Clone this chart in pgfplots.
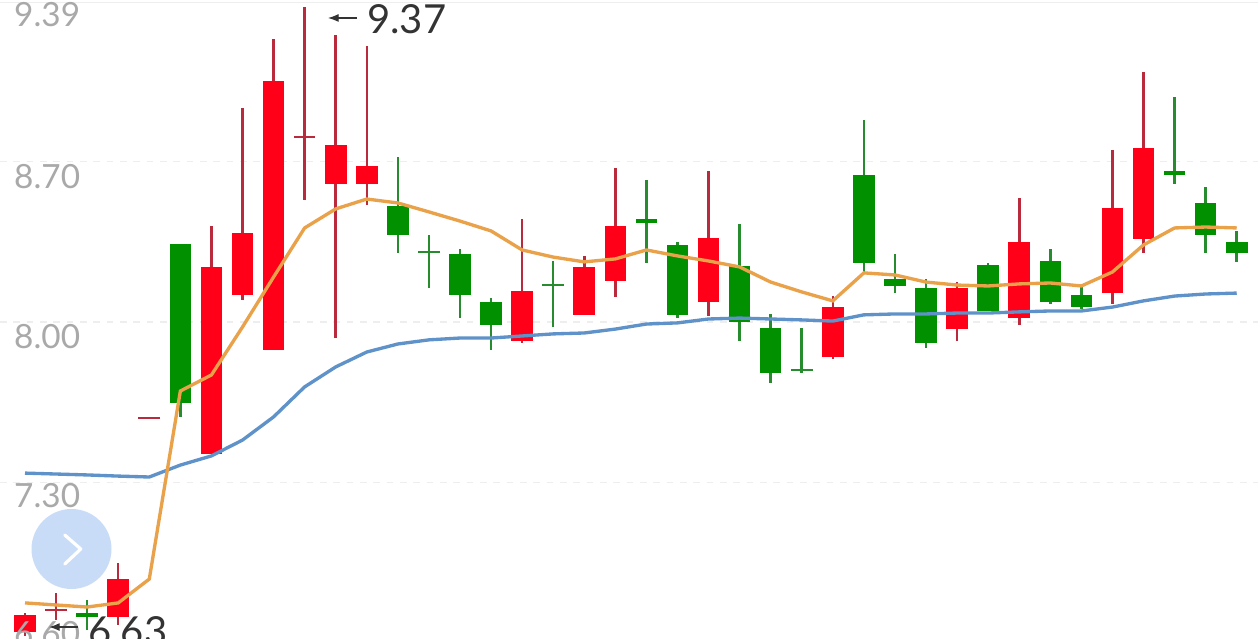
\documentclass[border=0pt]{standalone}
\usepackage{pgfplots}
\usepackage{pgfplotstable}
\pgfplotsset{compat=1.18}
\usepackage{fontspec}
\setmainfont{Lato}
\usetikzlibrary{arrows.meta}
\definecolor{bodyred}{HTML}{FF0018}
\definecolor{bodygreen}{HTML}{009000}
\definecolor{wickred}{HTML}{B82A3C}
\definecolor{wickgreen}{HTML}{278C2E}
\definecolor{maorange}{HTML}{E9A24A}
\definecolor{mablue}{HTML}{5F92C8}
\definecolor{gridc}{HTML}{EEEEEE}
\definecolor{ticktext}{HTML}{A9A9A9}
\definecolor{dark}{HTML}{333333}
\definecolor{btn}{HTML}{C9DCF7}

\pgfplotstableread{
i high top bottom low
0 6.73 6.722 6.648 6.63
3 6.949 6.879 6.714 6.679
6 8.419 8.240 7.424 7.424
7 8.933 8.388 8.118 8.096
8 9.234 9.051 7.878 7.878
10 9.252 8.772 8.602 7.930
11 9.204 8.680 8.602 8.510
16 8.449 8.135 7.917 7.908
18 8.288 8.240 8.031 8.031
19 8.672 8.419 8.179 8.109
22 8.659 8.366 8.087 8.026
26 8.113 8.065 7.847 7.839
30 8.174 8.148 7.969 7.917
32 8.541 8.349 8.017 7.987
35 8.750 8.497 8.126 8.078
36 9.090 8.759 8.362 8.301
}\redcandles
\pgfplotstableread{
i high top bottom low
1 6.818 6.748 6.740 6.700
4 7.586 7.586 7.577 7.577
9 9.374 8.811 8.802 8.532
}\reddoji
\pgfplotstableread{
i high top bottom low
2 6.788 6.731 6.714 6.657
5 8.340 8.340 7.647 7.586
12 8.720 8.506 8.379 8.301
14 8.318 8.297 8.118 8.017
15 8.105 8.087 7.987 7.878
20 8.619 8.449 8.432 8.257
21 8.349 8.336 8.031 8.017
23 8.427 8.244 8.000 7.917
24 8.035 7.974 7.778 7.734
27 8.881 8.641 8.257 8.218
28 8.297 8.188 8.157 8.126
29 8.188 8.148 7.908 7.887
31 8.257 8.249 8.048 8.048
33 8.318 8.266 8.087 8.078
34 8.153 8.118 8.065 8.057
37 8.981 8.659 8.641 8.602
38 8.589 8.519 8.379 8.301
39 8.397 8.349 8.301 8.262
}\greencandles
\pgfplotstableread{
i high top bottom low
13 8.379 8.310 8.301 8.148
17 8.266 8.166 8.157 7.978
25 7.974 7.795 7.786 7.778
}\greendoji
\pgfplotstableread{
i fast slow
0 6.775 7.341
1 6.766 7.337
2 6.757 7.333
3 6.775 7.328
4 6.879 7.324
5 7.699 7.376
6 7.769 7.416
7 7.978 7.485
8 8.196 7.586
9 8.410 7.717
10 8.493 7.804
11 8.536 7.869
12 8.519 7.904
13 8.480 7.922
14 8.440 7.930
15 8.397 7.930
16 8.314 7.939
17 8.283 7.948
18 8.262 7.952
19 8.275 7.969
20 8.314 7.991
21 8.288 7.996
22 8.266 8.013
23 8.240 8.017
24 8.174 8.013
25 8.131 8.009
26 8.092 8.004
27 8.214 8.031
28 8.205 8.035
29 8.174 8.035
30 8.161 8.039
31 8.157 8.039
32 8.166 8.044
33 8.170 8.048
34 8.157 8.048
35 8.218 8.065
36 8.336 8.092
37 8.410 8.113
38 8.414 8.122
39 8.410 8.126
}\malines

\newcommand\candles[3]{%
  \addplot[draw=none, mark=none, forget plot,
    error bars/.cd, y dir=both, y explicit, error mark=none,
    error bar style={draw=#2, solid, line width=1.9pt}]
    table[x=i, y=top, y error plus expr=\thisrow{high}-\thisrow{top},
          y error minus expr=\thisrow{top}-\thisrow{low}] {#1};
  \addplot[draw=none, mark=none, forget plot,
    error bars/.cd, y dir=plus, y explicit, error mark=none,
    error bar style={draw=#3, solid, line width=16.2pt}]
    table[x=i, y=bottom, y error plus expr=\thisrow{top}-\thisrow{bottom}] {#1};
}
\newcommand\pricelabel[3]{\node[anchor=base west, inner sep=0pt, text=ticktext, font=\fontsize{25}{25}\selectfont] at (rel axis cs:#1,#2) {#3};}

\begin{document}
\begin{tikzpicture}
\begin{axis}[
  name=chart,
  scale only axis, width=943.5pt, height=478.5pt,
  xmin=-0.805, xmax=39.685, ymin=6.622, ymax=9.404,
  axis background/.style={fill=white},
  axis line style={draw=none},
  xtick=\empty,
  ytick={7.3,8.0,8.7},
  yticklabels={},
  major tick length=0pt,
  ymajorgrids,
  grid style={draw=gridc, dash pattern=on 5pt off 5pt, line width=1pt},
]
\candles{\redcandles}{wickred}{bodyred}
\candles{\reddoji}{wickred}{wickred}
\candles{\greencandles}{wickgreen}{bodygreen}
\candles{\greendoji}{wickgreen}{wickgreen}
\addplot[mablue, line width=2.5pt, forget plot] table[x=i, y=slow] {\malines};
\addplot[maorange, line width=2.5pt, forget plot] table[x=i, y=fast] {\malines};
\draw[gridc, line width=1pt] (rel axis cs:0,0.9965) -- (rel axis cs:1,0.9965);
\pricelabel{0.0111}{0.9577}{9.39}
\pricelabel{0.0111}{0.7053}{8.70}
\pricelabel{0.0111}{0.4545}{8.00}
\pricelabel{0.0111}{0.2038}{7.30}
\pricelabel{0.0111}{-0.0110}{6.60}
\fill[btn] (rel axis cs:0.05684,0.1395) circle[radius=30pt];
\draw[white, line width=2.4pt, line cap=round, line join=round]
  (rel axis cs:0.0515,0.1614) -- (rel axis cs:0.0642,0.1395) -- (rel axis cs:0.0515,0.1160);
\draw[dark, line width=0.9pt, -{Latex[length=8pt,width=6pt]}] (rel axis cs:0.2838,0.9718) -- (rel axis cs:0.2607,0.9718);
\node[anchor=base west, inner sep=0pt, text=dark, font=\fontsize{30}{30}\selectfont] at (rel axis cs:0.2917,0.9467) {9.37};
\draw[dark, line width=0.9pt, -{Latex[length=8pt,width=6pt]}] (rel axis cs:0.0620,0.0172) -- (rel axis cs:0.0390,0.0172);
\node[anchor=base west, inner sep=0pt, text=dark, font=\fontsize{30}{30}\selectfont] at (rel axis cs:0.0700,-0.0110) {6.63};
\end{axis}
\pgfresetboundingbox
\path[use as bounding box] (chart.south west) rectangle (chart.north east);
\end{tikzpicture}
\end{document}
